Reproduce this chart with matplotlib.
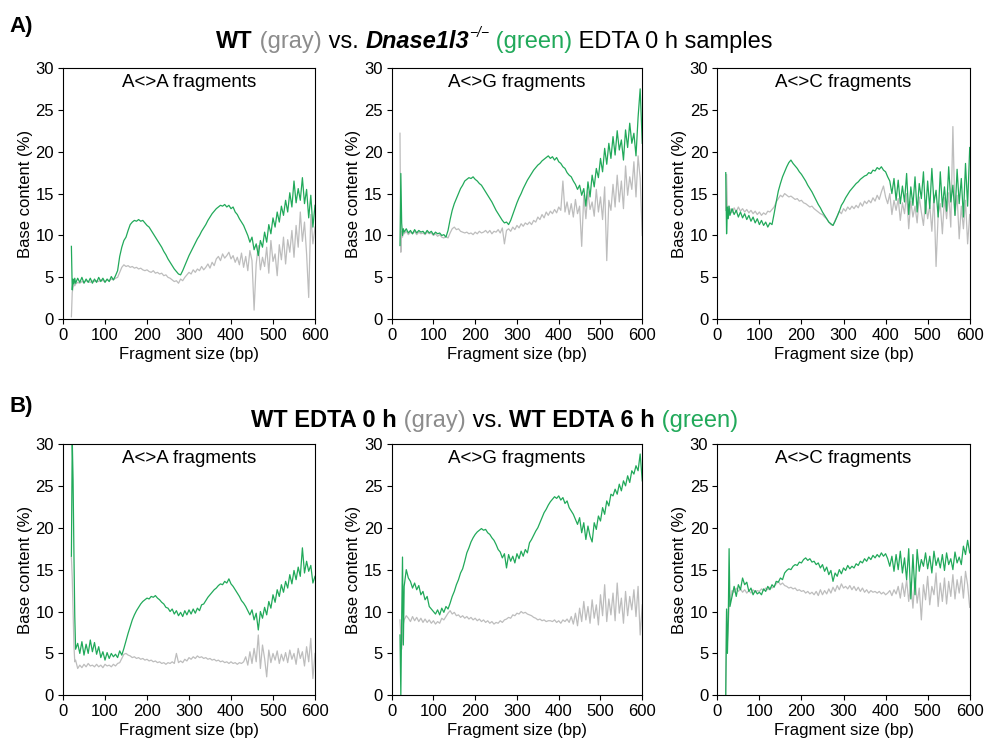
import matplotlib
matplotlib.use("Agg")
import matplotlib.pyplot as plt

plt.rcParams['font.family'] = ['Liberation Sans', 'DejaVu Sans']

GREEN = "#21a95a"
GRAY = "#bdbdbd"

# fragment sizes (bp)
bp = [20, 22, 24, 26, 28] + list(range(30, 601, 5))

# ---- A) WT (gray) vs Dnase1l3-/- (green) ----
a_aa_wt = [0.3, 3.2, 3.8, 4.1, 4.0,
           4.2, 4.4, 4.3, 4.5, 4.4, 4.6, 4.5, 4.4, 4.6, 4.5,
           4.6, 4.5, 4.7, 4.6, 4.5, 4.7, 4.6, 4.8, 4.7, 4.9,
           5.0, 5.6, 6.2, 6.5, 6.3, 6.4, 6.2, 6.3, 6.1, 6.2,
           6.0, 6.1, 5.9, 5.8, 5.9, 5.7, 5.6, 5.8, 5.5, 5.6,
           5.4, 5.5, 5.2, 5.3, 5.0, 4.9, 4.7, 4.5, 4.6, 4.3,
           4.8, 4.6, 5.0, 5.3, 5.6, 5.4, 5.9, 5.6, 6.0, 5.8,
           6.3, 5.9, 6.2, 6.6, 6.1, 6.8, 6.4, 7.2, 7.5, 7.0,
           7.8, 7.3, 7.6, 8.0, 7.2, 7.6, 6.8, 7.4, 6.5, 7.9,
           6.2, 7.5, 5.8, 8.2, 7.0, 1.1, 6.6, 8.8, 5.9, 7.4,
           6.3, 8.6, 5.5, 9.4, 6.9, 7.8, 5.2, 8.9, 7.1, 9.8,
           6.6, 9.5, 8.0, 10.6, 7.4, 11.2, 8.6, 12.8, 9.3, 11.6,
           7.8, 2.6, 12.5, 9.0, 11.0]
a_aa_ko = [8.7, 3.5, 4.8, 4.2, 4.9,
           4.3, 4.9, 4.4, 5.0, 4.3, 4.8, 4.4, 4.9, 4.3, 4.8,
           4.4, 5.0, 4.5, 4.9, 4.4, 4.8, 4.5, 5.1, 4.7, 5.2,
           5.8, 7.5, 8.6, 9.4, 9.8, 10.6, 11.3, 11.6, 11.8, 11.7,
           11.9, 11.7, 11.8, 11.5, 11.2, 11.0, 10.6, 10.2, 9.8, 9.4,
           9.0, 8.6, 8.1, 7.7, 7.2, 6.8, 6.4, 6.0, 5.7, 5.4,
           5.3, 5.8, 6.4, 7.0, 7.6, 8.1, 8.6, 9.1, 9.6, 10.0,
           10.5, 10.9, 11.3, 11.8, 12.2, 12.6, 12.9, 13.2, 13.4, 13.6,
           13.5, 13.7, 13.4, 13.6, 13.2, 13.4, 12.8, 12.5, 12.0, 11.6,
           11.2, 10.6, 10.0, 9.2, 9.8, 8.3, 9.0, 7.6, 9.4, 8.6,
           10.4, 9.2, 11.3, 10.2, 12.1, 11.0, 12.8, 11.6, 13.5, 12.4,
           14.2, 12.8, 15.1, 13.4, 16.5, 13.9, 15.6, 14.2, 16.9, 13.8,
           15.5, 12.1, 14.8, 11.0, 13.6]

a_ag_wt = [22.2, 8.0, 10.5, 9.8, 10.4,
           10.2, 10.5, 10.1, 10.4, 10.2, 10.5, 10.1, 10.4, 10.2, 10.3,
           10.1, 10.4, 10.2, 10.3, 10.0, 10.2, 9.9, 10.1, 9.8, 9.7,
           9.9, 9.7, 10.3, 10.8, 11.0, 10.7, 10.8, 10.5, 10.4, 10.3,
           10.4, 10.2, 10.3, 10.1, 10.4, 10.2, 10.5, 10.3, 10.4, 10.6,
           10.3, 10.6, 10.2, 10.5, 10.4, 10.7, 10.3, 10.9, 9.0, 10.6,
           10.8, 10.5, 11.0, 10.7, 11.2, 10.9, 11.4, 11.1, 11.5, 11.3,
           11.6, 11.3, 11.8, 11.6, 12.2, 11.9, 12.5, 12.1, 12.8, 12.4,
           12.9, 12.6, 13.1, 12.7, 13.4, 13.0, 16.5, 12.8, 14.0, 12.5,
           13.8, 12.2, 14.3, 12.6, 13.5, 8.7, 14.8, 12.0, 15.2, 13.1,
           14.0, 12.3, 15.5, 12.8, 14.6, 11.9, 15.8, 7.0, 14.2, 13.0,
           16.1, 13.4, 17.2, 14.0, 16.5, 13.2, 18.3, 14.8, 17.0, 15.5,
           18.8, 14.6, 19.5, 16.8, 10.0]
a_ag_ko = [8.8, 17.4, 11.5, 10.0, 10.8,
           10.4, 10.8, 10.3, 10.6, 10.2, 10.7, 10.3, 10.6, 10.4, 10.5,
           10.2, 10.6, 10.3, 10.5, 10.1, 10.4, 10.2, 10.3, 10.0, 10.1,
           9.8, 10.6, 11.9, 13.0, 13.8, 14.4, 15.0, 15.6, 16.0, 16.5,
           16.7, 16.9, 16.8, 17.0, 16.7, 16.5, 16.2, 16.0, 15.6, 15.2,
           14.8, 14.4, 14.0, 13.5, 13.0, 12.6, 12.2, 11.8, 11.5, 11.6,
           11.3, 11.8, 12.5, 13.2, 13.9, 14.5, 15.0, 15.6, 16.1, 16.6,
           17.0, 17.4, 17.8, 18.1, 18.4, 18.6, 18.9, 19.1, 19.3, 19.5,
           19.2, 19.4, 19.0, 19.3, 18.8, 18.6, 18.2, 18.0, 17.5, 17.2,
           17.0, 16.5, 16.1, 15.5, 16.0, 14.8, 15.6, 13.5, 16.4, 14.6,
           17.2, 15.8, 18.0, 16.9, 19.2, 17.6, 20.4, 18.5, 21.0, 19.2,
           21.8, 19.6, 22.5, 20.2, 21.4, 19.0, 22.6, 20.5, 23.4, 21.0,
           22.2, 19.5, 24.1, 27.5, 21.0]

a_ac_wt = [13.0, 17.3, 12.8, 13.5, 12.9,
           13.2, 12.7, 13.3, 12.8, 13.4, 12.9, 13.2, 12.8, 13.1, 12.7,
           13.0, 12.6, 12.9, 12.5, 12.8, 12.4, 12.7, 12.5, 12.9, 12.8,
           13.1, 13.4, 14.0, 14.4, 14.8, 14.6, 15.0, 14.8, 14.6, 14.7,
           14.5, 14.3, 14.4, 14.1, 14.2, 13.9, 13.8, 13.6, 13.4, 13.5,
           13.2, 13.0, 12.8, 12.6, 12.5, 12.2, 12.0, 11.6, 11.3, 11.2,
           11.8, 12.3, 12.9, 12.6, 13.2, 12.9, 13.4, 13.1, 13.5, 13.2,
           13.6, 13.3, 13.9, 13.5, 14.1, 13.8, 14.2, 13.9, 14.5, 14.1,
           14.8, 14.3, 15.2, 15.9, 14.6, 13.8, 15.0, 12.5, 14.2, 13.0,
           14.4, 11.8, 13.9, 12.6, 15.0, 10.8, 14.1, 12.2, 13.5, 11.5,
           14.6, 12.8, 11.2, 14.2, 12.0, 13.6, 10.5, 14.8, 6.3, 12.5,
           13.8, 10.2, 14.5, 12.0, 15.1, 11.0, 23.0, 12.4, 14.8, 9.6,
           13.5, 10.8, 14.2, 9.0, 12.5]
a_ac_ko = [17.5, 10.2, 13.4, 12.0, 13.5,
           12.4, 13.2, 12.5, 13.0, 12.2, 12.8, 12.1, 12.6, 11.9, 12.4,
           11.7, 12.2, 11.5, 12.0, 11.3, 11.8, 11.2, 11.6, 11.0, 11.5,
           11.3, 12.6, 14.0, 15.3, 16.2, 17.0, 17.6, 18.2, 18.7, 19.0,
           18.6, 18.3, 18.0, 17.6, 17.3, 16.9, 16.5, 16.0, 15.6, 15.2,
           14.7, 14.2, 13.7, 13.3, 12.8, 12.4, 12.0, 11.6, 11.4, 11.2,
           11.7, 12.3, 12.9, 13.6, 14.0, 14.5, 14.9, 15.3, 15.6, 15.9,
           16.2, 16.4, 16.7, 16.9, 17.1, 17.2, 17.5, 17.4, 17.8, 17.7,
           18.1, 17.9, 18.2, 17.8, 17.6, 17.0, 16.5, 15.0, 16.8, 14.2,
           16.6, 13.8, 15.9, 14.0, 17.4, 12.5, 15.8, 13.6, 17.0, 12.8,
           16.2, 14.4, 17.6, 12.6, 16.5, 13.2, 18.0, 13.9, 15.4, 12.2,
           17.6, 13.4, 15.8, 12.9, 18.2, 14.0, 16.0, 12.4, 17.9, 13.8,
           16.8, 12.2, 18.6, 13.5, 20.5]

# ---- B) WT EDTA 0 h (gray) vs WT EDTA 6 h (green) ----
b_aa_0h = [16.5, 14.0, 10.0, 6.0, 4.0,
           4.2, 3.2, 3.6, 3.3, 3.7, 3.4, 3.8, 3.5, 3.6, 3.4,
           3.7, 3.4, 3.6, 3.3, 3.7, 3.5, 3.6, 3.4, 3.7, 3.5,
           3.8, 3.9, 4.4, 4.9, 5.0, 4.8, 4.7, 4.5, 4.6, 4.4,
           4.5, 4.3, 4.4, 4.2, 4.3, 4.1, 4.2, 4.0, 4.1, 3.9,
           4.0, 3.8, 3.9, 3.7, 3.9, 3.8, 4.0, 3.8, 5.0, 3.9,
           4.1, 3.9, 4.3, 4.1, 4.5, 4.3, 4.6, 4.4, 4.7, 4.5,
           4.6, 4.4, 4.5, 4.3, 4.4, 4.2, 4.3, 4.1, 4.2, 4.0,
           4.1, 3.9, 4.0, 3.8, 4.0, 3.8, 3.9, 3.7, 3.9, 3.8,
           4.0, 4.6, 3.6, 5.2, 3.8, 5.6, 4.0, 7.2, 3.2, 6.0,
           4.4, 2.2, 5.4, 3.9, 5.0, 4.2, 5.3, 3.8, 4.9, 4.1,
           5.1, 3.9, 5.4, 4.3, 5.0, 3.7, 5.6, 4.4, 5.2, 3.5,
           5.8, 4.0, 6.8, 2.0, 5.0]
b_aa_6h = [16.6, 30.5, 25.7, 17.0, 9.5,
           5.5, 6.2, 5.0, 6.4, 4.8, 6.1, 5.0, 6.6, 5.2, 6.3,
           4.9, 5.8, 4.5, 5.2, 4.2, 5.1, 4.4, 5.0, 4.6, 4.9,
           4.5, 5.3, 4.8, 5.6, 6.5, 7.4, 8.2, 9.0, 9.6, 10.1,
           10.5, 10.9, 11.2, 11.4, 11.6, 11.5, 11.8, 11.7, 11.9, 11.6,
           11.4, 11.1, 10.9, 10.5, 10.4, 10.0, 10.3, 9.7, 10.1, 9.5,
           9.9, 9.4, 10.1, 9.6, 10.2, 9.7, 10.3, 9.8, 10.4, 10.1,
           10.8, 10.9, 11.3, 11.7, 12.0, 12.3, 12.6, 12.8, 13.1, 13.3,
           13.2, 13.6, 13.4, 13.9, 13.3, 13.0, 12.6, 12.2, 11.8, 11.3,
           11.0, 10.6, 10.1, 9.6, 10.2, 9.0, 9.8, 7.8, 10.0, 9.2,
           10.5, 9.6, 11.2, 10.4, 12.0, 11.1, 12.6, 11.8, 13.2, 12.3,
           13.6, 12.8, 14.4, 13.3, 14.9, 13.8, 15.3, 14.2, 17.6, 14.6,
           16.0, 14.8, 15.5, 13.4, 14.2]

b_ag_0h = [9.0, 7.0, 5.5, 6.8, 8.5,
           9.0, 9.5, 9.2, 8.8, 9.4, 8.9, 9.3, 8.8, 9.2, 8.7,
           9.1, 8.7, 9.0, 8.6, 8.9, 8.5, 8.8, 8.6, 9.2, 9.0,
           9.4, 9.8, 10.1, 9.7, 9.9, 9.5, 9.6, 9.3, 9.5, 9.2,
           9.4, 9.1, 9.3, 9.0, 9.2, 8.9, 9.1, 8.8, 9.0, 8.7,
           8.9, 8.6, 8.8, 8.5, 8.7, 8.6, 8.9, 8.7, 9.0, 9.1,
           9.3, 9.2, 9.6, 9.5, 9.8, 9.7, 10.0, 9.8, 9.9, 9.7,
           9.6, 9.5, 9.3, 9.2, 9.0, 9.1, 8.9, 9.0, 8.8, 8.9,
           8.9, 8.8, 9.0, 8.7, 8.9, 8.6, 9.0, 8.8, 9.1, 8.7,
           9.4, 8.5, 9.8, 8.3, 10.4, 8.8, 11.2, 9.0, 10.6, 8.6,
           11.4, 9.2, 10.8, 8.4, 12.0, 9.5, 13.2, 8.8, 11.5, 9.6,
           12.2, 8.9, 13.4, 9.8, 11.6, 8.6, 12.4, 9.5, 11.8, 10.2,
           12.6, 9.4, 13.0, 7.2, 10.8]
b_ag_6h = [7.2, 0.0, 9.0, 16.5, 6.0,
           13.0, 15.0, 14.0, 13.6, 12.8, 13.4, 12.6, 13.1, 12.0, 12.4,
           11.4, 11.8, 10.6, 10.3, 10.0, 9.7, 10.2, 9.6, 10.4, 9.9,
           10.6, 10.3, 11.0, 11.8, 12.4, 13.2, 13.8, 14.6, 15.1, 16.0,
           17.0, 17.6, 18.3, 18.8, 19.2, 19.5, 19.7, 19.9, 19.7, 19.8,
           19.4, 19.2, 18.8, 18.5, 18.0, 17.4, 17.1, 16.4, 16.9, 15.2,
           16.8, 16.0, 16.6, 15.8, 16.9, 16.3, 17.2, 16.6, 17.4, 17.0,
           18.2, 18.6, 19.1, 19.6, 20.0, 20.6, 21.2, 21.8, 22.2, 22.7,
           23.1, 23.4, 23.7, 23.5, 23.8, 23.3, 23.6, 22.9, 23.2, 22.4,
           22.0, 21.6, 21.0, 20.4, 21.2, 19.4, 20.6, 18.6, 20.2, 19.0,
           18.3, 20.6, 19.8, 21.4, 20.8, 22.4, 21.6, 23.2, 22.6, 24.0,
           23.8, 24.6, 24.0, 25.2, 24.4, 25.6, 25.0, 26.2, 25.4, 26.8,
           26.4, 27.4, 26.8, 28.8, 25.6]

b_ac_0h = [0.0, 10.0, 6.5, 8.5, 10.5,
           11.0, 12.5, 12.3, 12.8, 12.4, 12.7, 12.3, 12.6, 12.2, 12.5,
           12.2, 12.6, 12.3, 12.5, 12.4, 12.7, 12.5, 12.8, 12.6, 12.9,
           12.8, 13.0, 13.3, 13.6, 13.2, 13.4, 13.1, 13.0, 12.8, 12.9,
           12.7, 12.8, 12.5, 12.6, 12.4, 12.5, 12.2, 12.4, 12.1, 12.3,
           12.0, 12.4, 11.9, 12.6, 12.0, 12.5, 12.1, 12.7, 12.2, 12.9,
           12.4, 13.1, 12.6, 13.3, 12.8, 13.0, 12.7, 13.1, 12.6, 13.0,
           12.5, 12.9, 12.4, 12.8, 12.3, 12.6, 12.2, 12.5, 12.3, 12.4,
           12.2, 12.4, 12.1, 12.3, 12.0, 12.2, 12.5, 11.9, 12.6, 12.1,
           13.0, 11.6, 13.4, 11.8, 13.8, 11.2, 13.5, 10.4, 14.0, 11.0,
           12.8, 9.0, 13.2, 11.4, 14.2, 10.8, 13.0, 12.0, 14.6, 10.6,
           13.4, 11.2, 14.0, 10.9, 13.6, 11.8, 14.4, 11.5, 13.8, 12.2,
           14.2, 11.6, 14.8, 13.2, 10.5]
b_ac_6h = [0.0, 10.3, 5.0, 9.0, 17.5,
           10.6, 11.8, 13.0, 11.8, 13.2, 12.6, 14.0, 13.2, 13.5, 12.4,
           12.8, 12.0, 12.5, 12.1, 12.3, 12.0, 12.7, 12.4, 13.0, 12.6,
           13.2, 12.9, 13.6, 13.5, 14.0, 13.8, 14.6, 14.9, 15.1, 15.0,
           15.4, 15.6, 15.5, 15.9, 15.8, 16.2, 16.4, 16.1, 16.3, 15.9,
           16.0, 15.6, 15.8, 15.2, 15.6, 14.8, 15.3, 14.4, 14.9, 13.6,
           14.6, 14.2, 15.0, 14.5, 15.2, 14.9, 15.5, 15.1, 15.4, 15.2,
           15.7, 15.5, 16.0, 15.8, 16.3, 16.0, 16.5, 16.2, 16.7, 16.4,
           16.8, 16.5, 17.0, 16.6, 16.9, 16.3, 15.4, 16.6, 14.8, 16.8,
           15.0, 17.2, 14.6, 16.4, 13.8, 17.5, 11.5, 16.8, 12.0, 17.4,
           14.8, 16.2, 15.4, 17.0, 15.1, 16.6, 14.6, 17.2, 15.5, 16.4,
           15.2, 16.8, 14.9, 17.0, 15.6, 16.3, 15.0, 17.1, 15.8, 16.5,
           15.6, 17.8, 16.8, 18.5, 17.0]

panel_titles = ["A<>A fragments", "A<>G fragments", "A<>C fragments"]
rows = [[(a_aa_wt, a_aa_ko), (a_ag_wt, a_ag_ko), (a_ac_wt, a_ac_ko)],
        [(b_aa_0h, b_aa_6h), (b_ag_0h, b_ag_6h), (b_ac_0h, b_ac_6h)]]

fig = plt.figure(figsize=(9.89, 7.47), dpi=100)

lefts = [0.0637, 0.396, 0.7253]
widths = [0.2548, 0.2534, 0.2552]
bottoms = [0.5726, 0.0692]
height = 0.3365

for r in range(2):
    for c in range(3):
        ax = fig.add_axes([lefts[c], bottoms[r], widths[c], height])
        gray, green = rows[r][c]
        ax.plot(bp, gray, color=GRAY, lw=0.9)
        ax.plot(bp, green, color=GREEN, lw=0.9)
        ax.set_xlim(0, 600)
        ax.set_ylim(0, 30)
        ax.set_xticks(range(0, 601, 100))
        ax.set_yticks(range(0, 31, 5))
        ax.tick_params(direction='out', length=3.5, width=0.8, labelsize=12)
        ax.tick_params(axis='x', pad=2.5)
        ax.tick_params(axis='y', pad=3)
        for s in ax.spines.values():
            s.set_linewidth(0.8)
        ax.set_xlabel("Fragment size (bp)", fontsize=12, labelpad=3)
        ax.set_ylabel("Base content (%)", fontsize=12, labelpad=2)
        ax.text(0.5, 0.975, panel_titles[c], transform=ax.transAxes,
                ha='center', va='top', fontsize=13.5)


def rich_title(parts, y):
    # parts: (text, color, weight, style, fontsize, raise)
    renderer = fig.canvas.get_renderer()
    fw = fig.bbox.width
    texts = []
    x = 0.0
    for txt, col, wt, st, fs, dy in parts:
        t = fig.text(x, y + dy, txt, color=col, fontweight=wt, fontstyle=st,
                     fontsize=fs, ha='left', va='baseline')
        w = t.get_window_extent(renderer).width / fw
        texts.append(t)
        x += w
    shift = 0.5 - x / 2
    for t in texts:
        px, py = t.get_position()
        t.set_position((px + shift, py))


rich_title([("WT", "black", "bold", "normal", 17, 0),
            (" (gray)", "#8c8c8c", "normal", "normal", 17, 0),
            (" vs. ", "black", "normal", "normal", 17, 0),
            ("Dnase1l3", "black", "bold", "italic", 17, 0),
            ("\u2212/\u2212", "black", "normal", "italic", 10, 0.014),
            (" (green)", GREEN, "normal", "normal", 17, 0),
            (" EDTA 0 h samples", "black", "normal", "normal", 17, 0)],
           y=0.936)
rich_title([("WT EDTA 0 h", "black", "bold", "normal", 17, 0),
            (" (gray)", "#8c8c8c", "normal", "normal", 17, 0),
            (" vs. ", "black", "normal", "normal", 17, 0),
            ("WT EDTA 6 h", "black", "bold", "normal", 17, 0),
            (" (green)", GREEN, "normal", "normal", 17, 0)],
           y=0.428)

fig.text(0.010, 0.957, "A)", fontsize=16, fontweight='bold', va='baseline')
fig.text(0.010, 0.449, "B)", fontsize=16, fontweight='bold', va='baseline')

fig.savefig("out.png", dpi=100)
